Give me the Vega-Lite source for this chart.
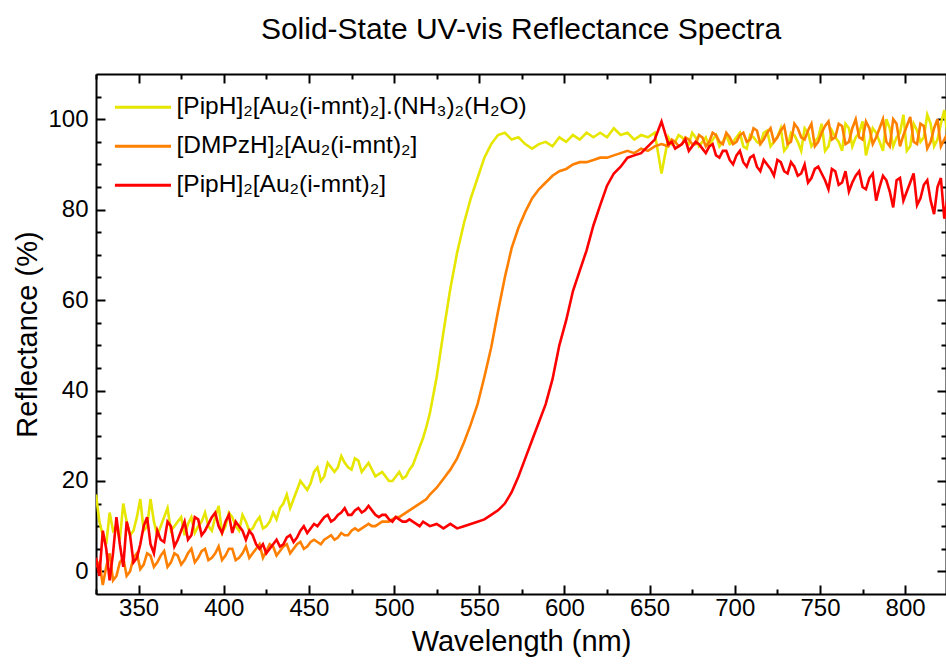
{
  "$schema": "https://vega.github.io/schema/vega-lite/v6.json",
  "width": 850,
  "height": 520,
  "autosize": {"type": "none"},
  "padding": {"left": 96, "top": 74, "right": 0, "bottom": 78},
  "background": "white",
  "config": {"view": {"stroke": null}, "font": "Liberation Sans"},
  "title": {"text": "Solid-State UV-vis Reflectance Spectra", "fontSize": 30, "font": "Liberation Sans", "fontWeight": "normal", "anchor": "middle", "offset": 28, "color": "black"},
  "data": {"values": [
    {"w":325,"a":17,"b":1,"c":3},{"w":327,"a":11,"b":2,"c":-1},{"w":329,"a":8,"b":-3,"c":9},{"w":331,"a":6,"b":1,"c":5},
    {"w":333,"a":13,"b":4,"c":-2},{"w":335,"a":9,"b":-2,"c":4},{"w":337,"a":10,"b":-1,"c":12},{"w":339,"a":7,"b":2,"c":6},
    {"w":341,"a":15,"b":3,"c":1},{"w":343,"a":11,"b":-1,"c":11},{"w":345,"a":8,"b":0,"c":8},{"w":347,"a":9,"b":3,"c":2},
    {"w":349,"a":12,"b":4,"c":3},{"w":351,"a":16,"b":0.5,"c":6},{"w":353,"a":9,"b":1.5,"c":10},{"w":355,"a":10,"b":4,"c":12},
    {"w":357,"a":16,"b":3.5,"c":6},{"w":359,"a":11,"b":1,"c":4},{"w":361,"a":8,"b":2,"c":9},{"w":363,"a":10,"b":3.5,"c":7},
    {"w":365,"a":12,"b":4.5,"c":6.5},{"w":367,"a":14,"b":1,"c":11},{"w":369,"a":9,"b":2,"c":10},{"w":371,"a":10,"b":4,"c":5.5},
    {"w":373,"a":11,"b":3.5,"c":7},{"w":375,"a":12,"b":1.5,"c":9},{"w":377,"a":8,"b":2.5,"c":11},{"w":379,"a":10.5,"b":4,"c":7},
    {"w":381,"a":12,"b":5,"c":8},{"w":383,"a":8.5,"b":2,"c":12},{"w":385,"a":10,"b":3,"c":11.5},{"w":387,"a":11,"b":4.5,"c":8},
    {"w":389,"a":13,"b":5,"c":9},{"w":391,"a":10,"b":2.5,"c":10.5},{"w":393,"a":9,"b":3,"c":12},{"w":395,"a":12,"b":4,"c":13},
    {"w":397,"a":14.5,"b":5.5,"c":10},{"w":399,"a":8.5,"b":2.5,"c":8.5},{"w":401,"a":10,"b":3.5,"c":11},{"w":403,"a":13,"b":5,"c":12.5},
    {"w":405,"a":12,"b":5,"c":8.5},{"w":407,"a":10,"b":2.5,"c":11},{"w":409,"a":9,"b":3,"c":10},{"w":411,"a":12.5,"b":4,"c":9},
    {"w":413,"a":11,"b":5.5,"c":7},{"w":415,"a":9,"b":3,"c":9},{"w":417,"a":9.5,"b":4,"c":8},{"w":419,"a":11,"b":5,"c":6},
    {"w":421,"a":12,"b":6,"c":5},{"w":423,"a":9.5,"b":3,"c":6},{"w":425,"a":10,"b":4.5,"c":4},{"w":427,"a":11,"b":6,"c":5},
    {"w":429,"a":13,"b":5.5,"c":6},{"w":431,"a":11.5,"b":3.5,"c":7},{"w":433,"a":14,"b":4.5,"c":5.5},{"w":435,"a":15,"b":5.5,"c":6},
    {"w":437,"a":17,"b":6,"c":7.5},{"w":439,"a":14,"b":4,"c":8},{"w":441,"a":16,"b":5,"c":6.5},{"w":443,"a":18,"b":6,"c":7.5},
    {"w":445,"a":20,"b":6.5,"c":9},{"w":447,"a":19,"b":5,"c":10},{"w":449,"a":18,"b":5.5,"c":8.5},{"w":451,"a":19.5,"b":6.5,"c":9.5},
    {"w":453,"a":22,"b":7,"c":10.5},{"w":455,"a":23,"b":6.5,"c":10},{"w":457,"a":20,"b":6,"c":11},{"w":459,"a":21,"b":7,"c":12},
    {"w":461,"a":24,"b":7.5,"c":12.5},{"w":463,"a":23,"b":8,"c":11},{"w":465,"a":22,"b":7,"c":11.5},{"w":467,"a":23,"b":7.5,"c":12.5},
    {"w":469,"a":25.5,"b":8.5,"c":13},{"w":471,"a":24,"b":8,"c":14},{"w":473,"a":23,"b":8,"c":12.5},{"w":475,"a":22.5,"b":9,"c":12.5},
    {"w":477,"a":25,"b":9.5,"c":13.5},{"w":479,"a":24.5,"b":9,"c":14},{"w":481,"a":22,"b":9.5,"c":13},{"w":483,"a":23,"b":10,"c":13.5},
    {"w":485,"a":24,"b":10.5,"c":14.5},{"w":487,"a":22.5,"b":10,"c":13.5},{"w":489,"a":21,"b":10,"c":12.5},{"w":491,"a":21.5,"b":10.5,"c":12},
    {"w":493,"a":22,"b":11,"c":12.5},{"w":495,"a":21,"b":11,"c":12.5},{"w":497,"a":20,"b":11,"c":11.5},{"w":499,"a":20,"b":11.5,"c":11},
    {"w":501,"a":21,"b":12,"c":12},{"w":503,"a":22,"b":12,"c":11.5},{"w":505,"a":20.5,"b":12.5,"c":11},{"w":507,"a":21,"b":13,"c":11},
    {"w":509,"a":22.5,"b":13.5,"c":11.5},{"w":511,"a":23.5,"b":14,"c":11},{"w":513,"a":25.5,"b":14.5,"c":10.5},{"w":515,"a":27.5,"b":15,"c":10},
    {"w":517,"a":29.5,"b":15.5,"c":11},{"w":519,"a":32,"b":16,"c":10.5},{"w":521,"a":35,"b":17,"c":10},{"w":525,"a":43,"b":18.5,"c":10.5},
    {"w":529,"a":53,"b":20.5,"c":9.5},{"w":533,"a":62.5,"b":22.5,"c":10.5},{"w":537,"a":70.5,"b":25,"c":9.5},{"w":541,"a":77,"b":28.5,"c":10},
    {"w":545,"a":82.5,"b":32.5,"c":10.5},{"w":549,"a":87,"b":37,"c":11},{"w":553,"a":91.5,"b":43,"c":11.5},{"w":557,"a":94.5,"b":49.5,"c":12.5},
    {"w":561,"a":96.5,"b":57.5,"c":13.5},{"w":565,"a":97,"b":65,"c":15},{"w":569,"a":95.5,"b":71.5,"c":17.5},{"w":573,"a":96,"b":76,"c":21},
    {"w":577,"a":94.5,"b":79.5,"c":25},{"w":581,"a":93.5,"b":82.5,"c":29},{"w":585,"a":94.5,"b":84.5,"c":33},{"w":589,"a":95,"b":86,"c":37},
    {"w":593,"a":94,"b":87.5,"c":42.5},{"w":597,"a":96,"b":88.5,"c":50},{"w":601,"a":95,"b":89,"c":55.5},{"w":605,"a":96.5,"b":90,"c":62},
    {"w":609,"a":95.5,"b":90.5,"c":66.5},{"w":613,"a":97,"b":90.5,"c":71},{"w":617,"a":96,"b":91,"c":76.5},{"w":621,"a":97,"b":91.5,"c":81},
    {"w":625,"a":96,"b":91.5,"c":85.3},{"w":629,"a":98,"b":92,"c":88},{"w":633,"a":96.5,"b":92.5,"c":89.5},{"w":637,"a":97,"b":93,"c":91.5},
    {"w":641,"a":95.5,"b":92.5,"c":92},{"w":645,"a":96.5,"b":93.5,"c":92.5},{"w":649,"a":96,"b":93,"c":94},{"w":653,"a":97,"b":94,"c":95.5},
    {"w":657,"a":88,"b":94.5,"c":99.5},{"w":661,"a":96,"b":94,"c":94.5},{"w":663,"a":94.5,"b":95.5,"c":95},{"w":665,"a":95,"b":95,"c":93.5},
    {"w":667,"a":96.5,"b":94,"c":94},{"w":669,"a":96,"b":94.5,"c":94.5},{"w":671,"a":95,"b":96,"c":95.5},{"w":673,"a":94.5,"b":95.5,"c":93},
    {"w":675,"a":97,"b":94.5,"c":94},{"w":677,"a":96,"b":94.5,"c":95},{"w":679,"a":94,"b":96.5,"c":94.5},{"w":681,"a":95,"b":96,"c":93.5},
    {"w":683,"a":96,"b":94,"c":92.5},{"w":685,"a":94,"b":95,"c":94},{"w":687,"a":95.5,"b":97,"c":94.5},{"w":689,"a":96.5,"b":96.5,"c":92},
    {"w":691,"a":94,"b":95,"c":91.5},{"w":693,"a":95,"b":94.5,"c":93},{"w":695,"a":96.5,"b":97,"c":93},{"w":697,"a":94.5,"b":96,"c":91},
    {"w":699,"a":95,"b":94.5,"c":90},{"w":701,"a":96,"b":95,"c":92},{"w":703,"a":97,"b":96.5,"c":93},{"w":705,"a":94,"b":97,"c":90.5},
    {"w":707,"a":93.5,"b":95,"c":89.5},{"w":709,"a":96.5,"b":95.5,"c":91.5},{"w":711,"a":96,"b":98,"c":92},{"w":713,"a":95,"b":97.5,"c":89.5},
    {"w":715,"a":94.5,"b":94.5,"c":88.5},{"w":717,"a":97,"b":95.5,"c":91},{"w":719,"a":97.5,"b":97,"c":90},{"w":721,"a":94,"b":98,"c":89},
    {"w":723,"a":95,"b":95,"c":87.5},{"w":725,"a":96,"b":96,"c":91},{"w":727,"a":98,"b":97.5,"c":90.5},{"w":729,"a":93,"b":98.5,"c":88.5},
    {"w":731,"a":94,"b":94.5,"c":88},{"w":733,"a":97,"b":95,"c":90.5},{"w":735,"a":96.5,"b":99,"c":89.5},{"w":737,"a":95,"b":98,"c":87.5},
    {"w":739,"a":93,"b":96,"c":88},{"w":741,"a":98,"b":95.5,"c":90},{"w":743,"a":97,"b":97.5,"c":86},{"w":745,"a":94,"b":99,"c":87},
    {"w":747,"a":95,"b":94,"c":89},{"w":749,"a":96,"b":95,"c":89.5},{"w":751,"a":99,"b":97,"c":88},{"w":753,"a":93,"b":98.5,"c":86.5},
    {"w":755,"a":94,"b":99.5,"c":84.5},{"w":757,"a":97.5,"b":95.5,"c":89},{"w":759,"a":96,"b":96,"c":88.5},{"w":761,"a":95,"b":99,"c":85.5},
    {"w":763,"a":93,"b":98.5,"c":86},{"w":765,"a":99,"b":94.5,"c":88.5},{"w":767,"a":98,"b":95,"c":84},{"w":769,"a":94,"b":98,"c":86},
    {"w":771,"a":96,"b":100,"c":87.5},{"w":773,"a":97,"b":96,"c":88.5},{"w":775,"a":99.5,"b":95.5,"c":85},{"w":777,"a":92,"b":99.5,"c":84.5},
    {"w":779,"a":95,"b":98,"c":87},{"w":781,"a":98,"b":94.5,"c":88},{"w":783,"a":97,"b":96,"c":82},{"w":785,"a":95,"b":98,"c":85},
    {"w":787,"a":93,"b":100,"c":87.5},{"w":789,"a":100,"b":95,"c":86.5},{"w":791,"a":98,"b":94,"c":84},{"w":793,"a":94,"b":100,"c":80.5},
    {"w":795,"a":96,"b":99,"c":86.5},{"w":797,"a":97,"b":94,"c":87},{"w":799,"a":101,"b":96.5,"c":82},{"w":801,"a":93,"b":98.5,"c":84},
    {"w":803,"a":94,"b":100.5,"c":86},{"w":805,"a":99,"b":95,"c":88},{"w":807,"a":97.5,"b":94.5,"c":81},{"w":809,"a":95,"b":99,"c":82.5},
    {"w":811,"a":96,"b":98.5,"c":85.5},{"w":813,"a":101,"b":93.5,"c":86.5},{"w":815,"a":99,"b":95,"c":82},{"w":817,"a":94,"b":98,"c":79},
    {"w":819,"a":95.5,"b":100,"c":85},{"w":821,"a":99,"b":94,"c":87},{"w":823,"a":102,"b":95.5,"c":78},{"w":825,"a":96,"b":97,"c":83}
  ]},
  "transform": [{"fold": ["a", "b", "c"], "as": ["s", "r"]}],
  "layer": [
    {
      "mark": {"type": "line", "strokeWidth": 2.6, "clip": true},
      "encoding": {
        "x": {"field": "w", "type": "quantitative", "scale": {"domain": [325, 824], "nice": false, "zero": false},
          "axis": {"orient": "bottom", "values": [325,350,375,400,425,450,475,500,525,550,575,600,625,650,675,700,725,750,775,800],
            "tickSize": {"condition": {"test": "datum.value % 50 === 0", "value": -9}, "value": -5},
            "labelExpr": "datum.value % 50 === 0 ? datum.label : ''",
            "labelFontSize": 24, "labelFont": "Liberation Sans", "labelColor": "black", "labelPadding": 11, "labelOverlap": false, "labelFlush": false,
            "title": "Wavelength (nm)", "titleFontSize": 29, "titleFont": "Liberation Sans", "titleFontWeight": "normal", "titleColor": "black", "titlePadding": 3,
            "domainColor": "black", "domainWidth": 2, "tickColor": "black", "tickWidth": 2, "grid": false}},
        "y": {"field": "r", "type": "quantitative", "scale": {"domain": [-5, 110], "nice": false, "zero": false},
          "axis": {"orient": "left", "values": [0,5,10,15,20,25,30,35,40,45,50,55,60,65,70,75,80,85,90,95,100,105],
            "tickSize": {"condition": {"test": "datum.value % 20 === 0", "value": -9}, "value": -5},
            "labelExpr": "datum.value % 20 === 0 ? datum.label : ''",
            "labelFontSize": 24, "labelFont": "Liberation Sans", "labelColor": "black", "labelPadding": 17, "labelOverlap": false, "labelFlush": false,
            "title": "Reflectance (%)", "titleFontSize": 29, "titleFont": "Liberation Sans", "titleFontWeight": "normal", "titleColor": "black", "titlePadding": 5,
            "domainColor": "black", "domainWidth": 2, "tickColor": "black", "tickWidth": 2, "grid": false}},
        "color": {"field": "s", "type": "nominal",
          "scale": {"domain": ["a", "b", "c"], "range": ["#E6E600", "#FF8000", "#FF0000"]},
          "legend": {"orient": "none", "legendX": 16, "legendY": 21, "title": null, "padding": 0,
            "symbolType": "M-1,0H5", "symbolSize": 350, "symbolStrokeWidth": 3, "symbolFillColor": "transparent",
            "labelFontSize": 24.5, "labelFont": "Liberation Sans", "labelColor": "black", "labelLimit": 600, "labelOffset": 40, "rowPadding": 14,
            "labelExpr": "datum.label === 'a' ? '[PipH]₂[Au₂(i-mnt)₂].(NH₃)₂(H₂O)' : datum.label === 'b' ? '[DMPzH]₂[Au₂(i-mnt)₂]' : '[PipH]₂[Au₂(i-mnt)₂]'"}}
      }
    },
    {
      "mark": {"type": "point", "opacity": 0},
      "encoding": {
        "x": {"field": "w", "type": "quantitative",
          "axis": {"orient": "top", "values": [325,350,375,400,425,450,475,500,525,550,575,600,625,650,675,700,725,750,775,800],
            "tickSize": {"condition": {"test": "datum.value % 50 === 0", "value": -9}, "value": -5},
            "labels": false, "title": null, "domainColor": "black", "domainWidth": 2, "tickColor": "black", "tickWidth": 2, "grid": false}},
        "y": {"field": "r", "type": "quantitative",
          "axis": {"orient": "right", "values": [0,5,10,15,20,25,30,35,40,45,50,55,60,65,70,75,80,85,90,95,100,105],
            "tickSize": {"condition": {"test": "datum.value % 20 === 0", "value": -9}, "value": -5},
            "labels": false, "title": null, "domainColor": "black", "domainWidth": 2, "tickColor": "black", "tickWidth": 2, "grid": false}}
      }
    }
  ],
  "resolve": {"axis": {"x": "independent", "y": "independent"}}
}
